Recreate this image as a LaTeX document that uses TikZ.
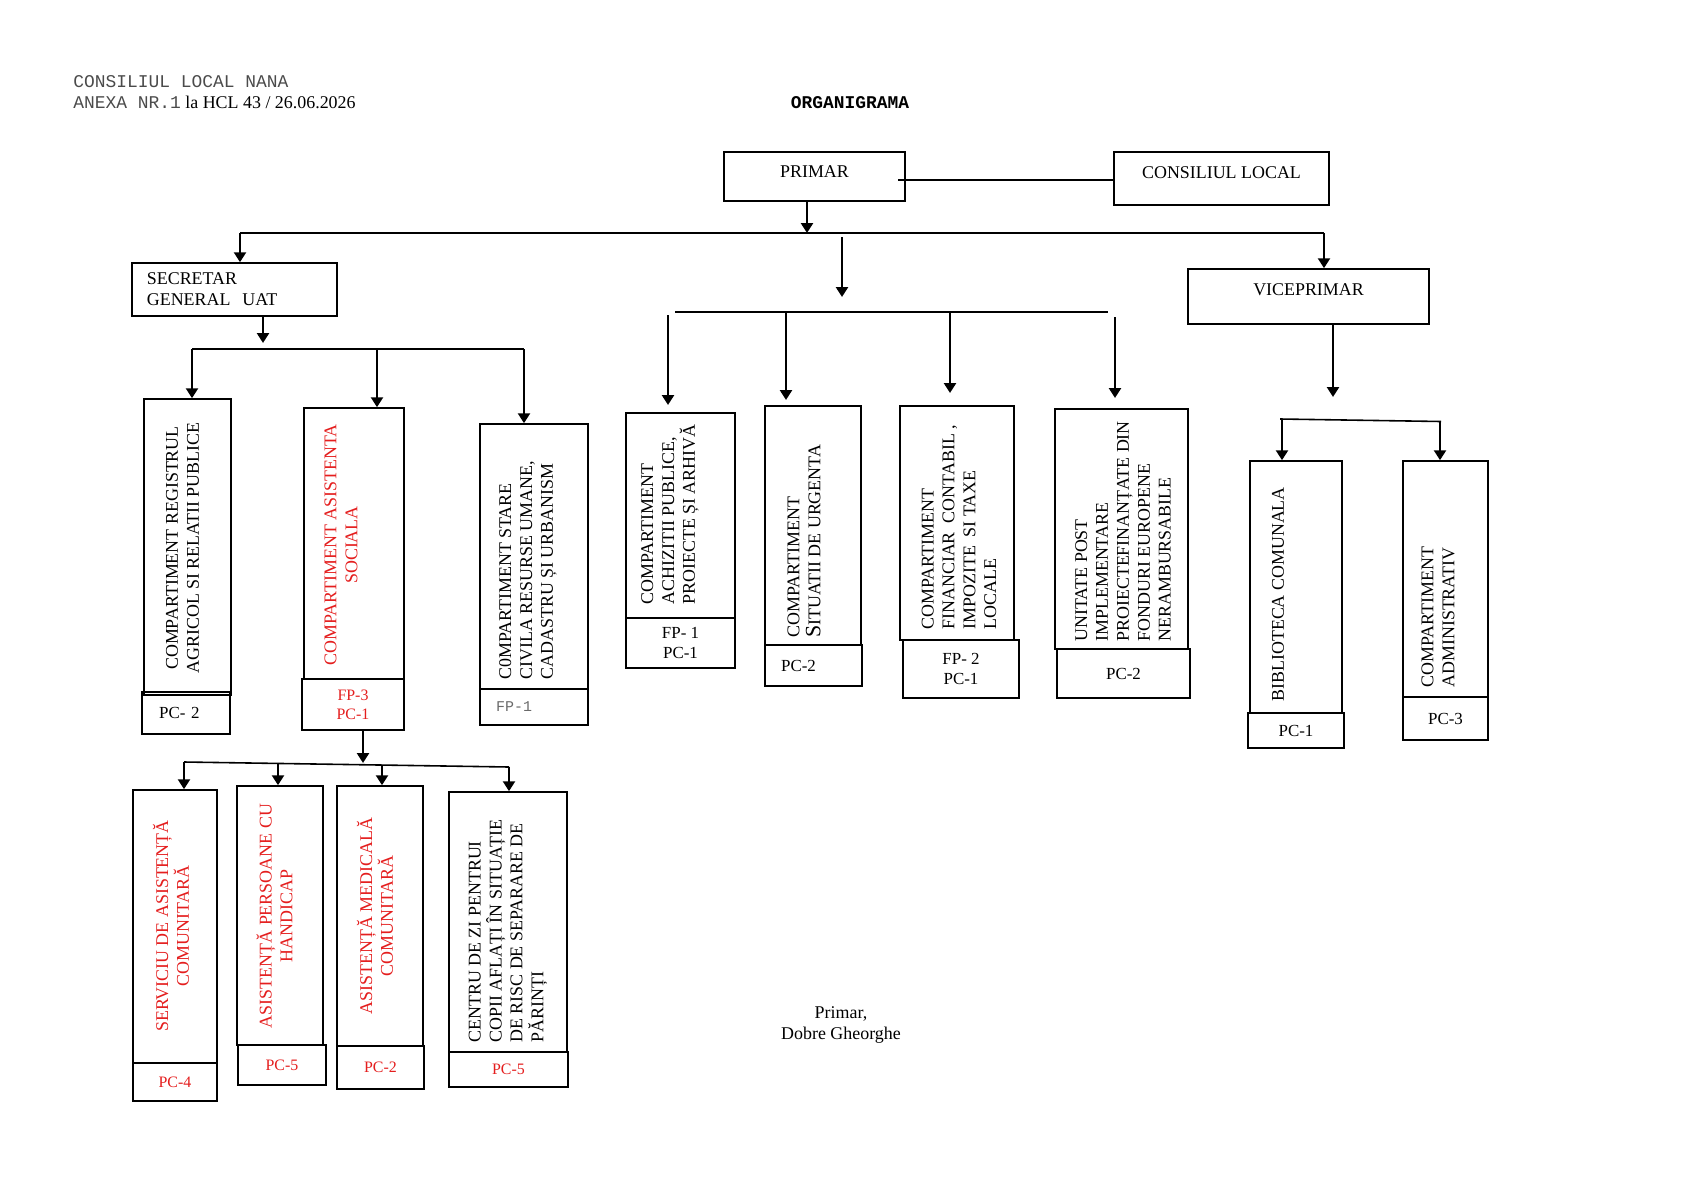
\documentclass[tikz,border=0pt]{standalone}
\usepackage{fontspec}
\setmainfont{Liberation Serif}
\setmonofont{Liberation Mono}
\usepackage{tikz}
\usepackage{xcolor}
\usetikzlibrary{positioning,arrows,arrows.meta}

\definecolor{redtext}{RGB}{228,30,30}
\definecolor{graytext}{RGB}{105,105,105}
\definecolor{headtext}{RGB}{75,75,75}

\begin{document}
\begin{tikzpicture}[x=0.017647cm, y=-0.017647cm, font=\fontsize{9}{10.5}\selectfont]
    \tikzset{
      dept/.style 2 args = {rectangle, draw=black, line width=0.8pt, inner sep=0pt, align=center, minimum width=#1*0.017647cm, minimum height=#2*0.017647cm},
      postfont/.style = {font=\fontsize{8.5}{10}\selectfont},
      redpost/.style = {text=redtext, font=\fontsize{8}{9.5}\selectfont},
      vtext/.style = {rotate=90, inner sep=0pt, align=center},
      lefttext/.style = {vtext, align=left, anchor=west},
      arrow/.style = {line width=1.3pt, -{Triangle[length=5pt,width=6pt]}},
      bus/.style = {line width=0.8pt}
    }
    \useasboundingbox (0,0) rectangle (1683,1190);

    \node (head1) [anchor=base west, inner sep=0pt, text=headtext, font=\ttfamily\fontsize{9}{10.5}\selectfont] at (73,87) {CONSILIUL LOCAL NANA};
    \node (head2) [anchor=base west, inner sep=0pt] at (73,108) {\textcolor{headtext}{\ttfamily ANEXA NR.1}\ la HCL 43 / 26.06.2026};
    \node (title) [anchor=base, inner sep=0pt, font=\ttfamily\bfseries\fontsize{9}{10.5}\selectfont] at (850,108) {ORGANIGRAMA};

    % conducere
    \node (prim) [dept={181}{49}, text height=6pt, text depth=4.5pt] at (814.5,176.5) {PRIMAR};
    \node (cl) [dept={215}{53}, text height=6pt, text depth=6.5pt] at (1221.5,178.5) {CONSILIUL LOCAL};
    \node (sec) [dept={205}{53}, align=left, text width=88pt] at (234.5,289.5) {SECRETAR\\GENERAL\ \ UAT};
    \node (vice) [dept={241}{55}, text height=6pt, text depth=7.5pt] at (1308.5,296.5) {VICEPRIMAR};

    % compartimente secretar
    \node (b1) [dept={87}{296}] at (187.5,547) {};
    \node (b1txt) [vtext] at (182.5,548) {COMPARTIMENT REGISTRUL\\AGRICOL SI RELATII PUBLICE};
    \node (b1tag) [dept={88}{42}, postfont, align=left, text width=27pt] at (186,713) {PC- 2};
    \node (b2) [dept={100}{271}] at (354,543.5) {};
    \node (b2txt) [vtext, text=redtext] at (341,545) {COMPARTIMENT ASISTENTA\\SOCIALA};
    \node (b2tag) [dept={102}{51}, redpost] at (353,704.5) {FP-3\\PC-1};
    \node (b3) [dept={108}{265}] at (534,556.5) {};
    \node (b3txt) [lefttext] at (528,680) {C0MPARTIMENT STARE\\CIVILA RESURSE UMANE,\\CADASTRU ȘI URBANISM};
    \node (b3tag) [dept={108}{36}, align=left, text width=38pt, text=graytext, font=\ttfamily\fontsize{7.5}{9}\selectfont] at (534,707) {FP-1};

    % compartimente primar
    \node (bA) [dept={109}{205}] at (680.5,515.5) {};
    \node (bAtxt) [lefttext] at (670,605) {COMPARTIMENT\\ACHIZITII PUBLICE,\\PROIECTE ȘI ARHIVĂ};
    \node (bAtag) [dept={109}{50}, postfont] at (680.5,643) {FP- 1\\PC-1};
    \node (bB) [dept={96}{239}] at (813,525.5) {};
    \node (bBtxt) [lefttext] at (804,638) {COMPARTIMENT\\{\fontsize{11}{10.5}\selectfont S}ITUATII DE URGENTA};
    \node (bBtag) [dept={97}{41}, postfont, align=left, text width=32.5pt] at (813.5,665.5) {PC-2};
    \node (bC) [dept={114}{234}] at (957,523) {};
    \node (bCtxt) [lefttext] at (959,630) {COMPARTIMENT\\FINANCIAR\ \ CONTABIL ,\\IMPOZITE\ \ SI TAXE\\LOCALE};
    \node (bCtag) [dept={116}{58}, postfont] at (961,669) {FP- 2\\PC-1};
    \node (bD) [dept={133}{240}] at (1121.5,529) {};
    \node (bDtxt) [lefttext] at (1123,642) {UNITATE POST\\IMPLEMENTARE\\PROIECTEFINANȚATE DIN\\FONDURI EUROPENE\\NERAMBURSABILE};
    \node (bDtag) [dept={133}{49}, postfont] at (1123.5,673.5) {PC-2};

    % compartimente viceprimar
    \node (bib) [dept={92}{252}] at (1296,587) {};
    \node (bibtxt) [lefttext] at (1278,702) {BIBLIOTECA COMUNALA};
    \node (bibtag) [dept={96}{35}, postfont] at (1296,730.5) {PC-1};
    \node (adm) [dept={85}{236}] at (1445.5,579) {};
    \node (admtxt) [lefttext] at (1438,688) {COMPARTIMENT\\ADMINISTRATIV};
    \node (admtag) [dept={85}{43}, postfont] at (1445.5,718.5) {PC-3};

    % asistenta sociala
    \node (s1) [dept={84}{273}] at (175,926.5) {};
    \node (s1txt) [vtext, text=redtext] at (171,926) {SERVICIU DE ASISTENȚĂ\\COMUNITARĂ};
    \node (s1tag) [dept={84}{38}, redpost] at (175,1082) {PC-4};
    \node (s2) [dept={86}{259}] at (280,915.5) {};
    \node (s2txt) [vtext, text=redtext] at (274.5,916) {ASISTENȚĂ PERSOANE CU\\HANDICAP};
    \node (s2tag) [dept={88}{40}, redpost] at (282,1065) {PC-5};
    \node (s3) [dept={86}{260}] at (380,916) {};
    \node (s3txt) [vtext, text=redtext] at (375,916) {ASISTENȚĂ MEDICALĂ\\COMUNITARĂ};
    \node (s3tag) [dept={87}{43}, redpost] at (380.5,1067.5) {PC-2};
    \node (s4) [dept={118}{260}] at (508,922) {};
    \node (s4txt) [lefttext] at (508,1043) {CENTRU DE ZI PENTRUI\\COPII AFLAȚI ÎN SITUAȚIE\\DE RISC DE SEPARARE DE\\PĂRINȚI};
    \node (s4tag) [dept={119}{35}, redpost] at (508.5,1069.5) {PC-5};

    \node (sign) [align=center, font=\fontsize{9}{11}\selectfont] at (841,1025) {Primar,\\Dobre Gheorghe};

    % legaturi
    \coordinate (pc) at (898,180);
    \draw [bus] (pc) -- (pc -| cl.west);
    \coordinate (busL) at (240,233);
    \coordinate (busR) at (1324,233);
    \coordinate (p1) at (807,233);
    \coordinate (m0) at (842,237);
    \coordinate (m1) at (842,297);
    \draw [bus] (busL) -- (busR);
    \draw [arrow] (p1 |- prim.south) -- (p1);
    \draw [arrow] (busL) -- (busL |- sec.north);
    \draw [arrow] (m0) -- (m1);
    \draw [arrow] (busR) -- (busR |- vice.north);

    \coordinate (sb) at (263,343);
    \coordinate (sbL) at (192,349);
    \coordinate (sb2) at (377,349);
    \coordinate (sbR) at (524,349);
    \draw [arrow] (sb |- sec.south) -- (sb);
    \draw [bus] (sbL) -- (sbR);
    \draw [arrow] (sbL) -- (sbL |- b1.north);
    \draw [arrow] (sb2) -- (sb2 |- b2.north);
    \draw [arrow] (sbR) -- (sbR |- b3.north);

    \coordinate (mbL) at (675,312);
    \coordinate (mbR) at (1108,312);
    \coordinate (ma1) at (668,315);
    \coordinate (ma1e) at (668,405);
    \coordinate (ma2) at (786,312);
    \coordinate (ma2e) at (786,400);
    \coordinate (ma3) at (950,312);
    \coordinate (ma3e) at (950,393);
    \coordinate (ma4) at (1115,317);
    \coordinate (ma4e) at (1115,398);
    \draw [bus] (mbL) -- (mbR);
    \draw [arrow] (ma1) -- (ma1e);
    \draw [arrow] (ma2) -- (ma2e);
    \draw [arrow] (ma3) -- (ma3e);
    \draw [arrow] (ma4) -- (ma4e);

    \coordinate (vv) at (1333,397);
    \coordinate (vbL) at (1280,419);
    \coordinate (vbR) at (1441,421.5);
    \coordinate (vb1) at (1282,419.5);
    \coordinate (vb2) at (1440,421.5);
    \draw [arrow] (vv |- vice.south) -- (vv);
    \draw [bus] (vbL) -- (vbR);
    \draw [arrow] (vb1) -- (vb1 |- bib.north);
    \draw [arrow] (vb2) -- (vb2 |- adm.north);

    \coordinate (ab) at (363,763);
    \coordinate (abL) at (184,762);
    \coordinate (ab2) at (278,763.5);
    \coordinate (ab3) at (382,765);
    \coordinate (abR) at (509,767);
    \draw [arrow] (ab |- b2tag.south) -- (ab);
    \draw [bus] (abL) -- (abR);
    \draw [arrow] (abL) -- (abL |- s1.north);
    \draw [arrow] (ab2) -- (ab2 |- s2.north);
    \draw [arrow] (ab3) -- (ab3 |- s3.north);
    \draw [arrow] (abR) -- (abR |- s4.north);
\end{tikzpicture}
\end{document}
